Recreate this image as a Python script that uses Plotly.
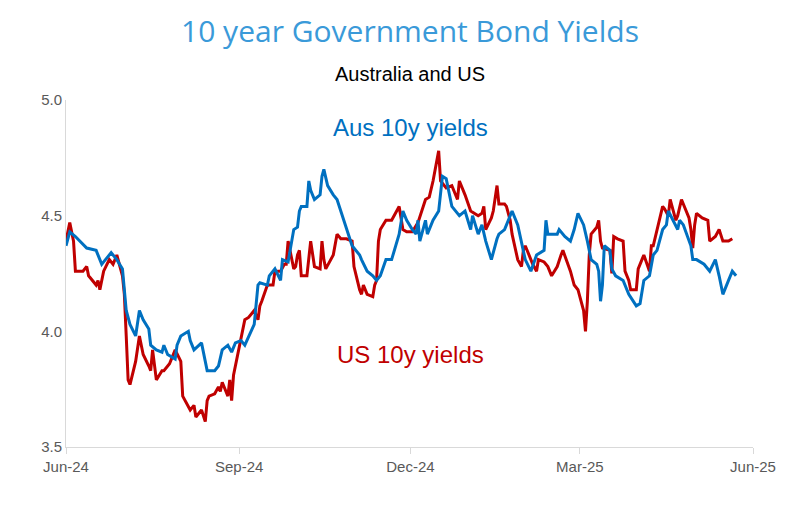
import plotly.graph_objects as go

AUS_DATES = ["2024-06-01", "2024-06-03", "2024-06-06", "2024-06-12", "2024-06-17", "2024-06-20", "2024-06-21",
             "2024-06-25", "2024-06-28", "2024-07-01", "2024-07-03", "2024-07-05", "2024-07-08", "2024-07-10",
             "2024-07-12", "2024-07-15", "2024-07-16", "2024-07-19", "2024-07-22", "2024-07-23", "2024-07-25",
             "2024-07-29", "2024-07-30", "2024-08-01", "2024-08-05", "2024-08-06", "2024-08-08", "2024-08-12",
             "2024-08-14", "2024-08-15", "2024-08-19", "2024-08-21", "2024-08-23", "2024-08-26", "2024-08-28",
             "2024-08-30", "2024-09-02", "2024-09-04", "2024-09-09", "2024-09-11", "2024-09-12", "2024-09-16",
             "2024-09-17", "2024-09-20", "2024-09-23", "2024-09-24", "2024-09-27", "2024-09-30", "2024-10-02",
             "2024-10-03", "2024-10-04", "2024-10-07", "2024-10-08", "2024-10-09", "2024-10-11", "2024-10-14",
             "2024-10-15", "2024-10-16", "2024-10-18", "2024-10-21", "2024-10-23", "2024-10-25", "2024-10-28",
             "2024-10-31", "2024-11-04", "2024-11-05", "2024-11-08", "2024-11-11", "2024-11-13", "2024-11-15",
             "2024-11-18", "2024-11-21", "2024-11-25", "2024-11-27", "2024-11-29", "2024-12-02", "2024-12-04",
             "2024-12-05", "2024-12-06", "2024-12-09", "2024-12-10", "2024-12-13", "2024-12-16", "2024-12-18",
             "2024-12-20", "2024-12-23", "2024-12-27", "2024-12-30", "2025-01-02", "2025-01-03", "2025-01-06",
             "2025-01-08", "2025-01-10", "2025-01-13", "2025-01-16", "2025-01-17", "2025-01-20", "2025-01-24",
             "2025-01-27", "2025-01-29", "2025-01-31", "2025-02-03", "2025-02-06", "2025-02-10", "2025-02-11",
             "2025-02-12", "2025-02-14", "2025-02-17", "2025-02-18", "2025-02-21", "2025-02-24", "2025-02-26",
             "2025-02-28", "2025-03-03", "2025-03-05", "2025-03-07", "2025-03-10", "2025-03-11", "2025-03-12",
             "2025-03-13", "2025-03-14", "2025-03-17", "2025-03-18", "2025-03-20", "2025-03-24", "2025-03-27",
             "2025-03-31", "2025-04-02", "2025-04-04", "2025-04-07", "2025-04-09", "2025-04-11", "2025-04-14",
             "2025-04-16", "2025-04-17", "2025-04-22", "2025-04-23", "2025-04-25", "2025-04-29", "2025-04-30",
             "2025-05-02", "2025-05-06", "2025-05-09", "2025-05-12", "2025-05-14", "2025-05-16", "2025-05-19",
             "2025-05-21", "2025-05-23"]
AUS_YIELDS = [4.37, 4.43, 4.41, 4.36, 4.35, 4.29, 4.30, 4.34, 4.31, 4.27, 4.09, 4.03, 3.98, 4.09, 4.05,
              4.01, 3.94, 3.92, 3.91, 3.94, 3.90, 3.88, 3.94, 3.98, 4.00, 3.96, 3.92, 3.95, 3.87, 3.83,
              3.83, 3.85, 3.92, 3.94, 3.91, 3.95, 3.96, 3.94, 4.03, 4.20, 4.21, 4.20, 4.24, 4.27, 4.22,
              4.31, 4.30, 4.44, 4.45, 4.52, 4.54, 4.54, 4.65, 4.61, 4.57, 4.59, 4.67, 4.70, 4.63, 4.59,
              4.57, 4.52, 4.44, 4.37, 4.33, 4.31, 4.26, 4.24, 4.22, 4.24, 4.31, 4.31, 4.42, 4.52, 4.48,
              4.44, 4.42, 4.48, 4.39, 4.48, 4.42, 4.48, 4.52, 4.67, 4.66, 4.54, 4.50, 4.52, 4.44, 4.50,
              4.42, 4.46, 4.39, 4.31, 4.40, 4.42, 4.44, 4.52, 4.46, 4.39, 4.31, 4.26, 4.33, 4.35, 4.48,
              4.42, 4.42, 4.42, 4.44, 4.41, 4.39, 4.44, 4.51, 4.46, 4.39, 4.31, 4.29, 4.26, 4.13, 4.20,
              4.37, 4.35, 4.27, 4.24, 4.22, 4.16, 4.11, 4.12, 4.22, 4.24, 4.33, 4.35, 4.44, 4.46, 4.52,
              4.44, 4.48, 4.46, 4.37, 4.31, 4.31, 4.29, 4.26, 4.31, 4.24, 4.16, 4.22, 4.26, 4.24]

US_DATES = ["2024-06-01", "2024-06-03", "2024-06-05", "2024-06-06", "2024-06-10", "2024-06-12", "2024-06-13",
            "2024-06-17", "2024-06-18", "2024-06-19", "2024-06-21", "2024-06-24", "2024-06-26", "2024-06-28",
            "2024-07-01", "2024-07-02", "2024-07-03", "2024-07-04", "2024-07-05", "2024-07-08", "2024-07-10",
            "2024-07-12", "2024-07-15", "2024-07-16", "2024-07-17", "2024-07-18", "2024-07-19", "2024-07-22",
            "2024-07-23", "2024-07-26", "2024-07-29", "2024-08-01", "2024-08-02", "2024-08-06", "2024-08-08",
            "2024-08-09", "2024-08-12", "2024-08-14", "2024-08-15", "2024-08-16", "2024-08-19", "2024-08-21",
            "2024-08-22", "2024-08-23", "2024-08-26", "2024-08-27", "2024-08-28", "2024-08-29", "2024-09-02",
            "2024-09-04", "2024-09-06", "2024-09-09", "2024-09-11", "2024-09-12", "2024-09-13", "2024-09-16",
            "2024-09-19", "2024-09-20", "2024-09-23", "2024-09-25", "2024-09-26", "2024-09-27", "2024-09-30",
            "2024-10-01", "2024-10-02", "2024-10-03", "2024-10-04", "2024-10-07", "2024-10-09", "2024-10-11",
            "2024-10-14", "2024-10-15", "2024-10-16", "2024-10-17", "2024-10-21", "2024-10-23", "2024-10-25",
            "2024-10-28", "2024-10-31", "2024-11-01", "2024-11-04", "2024-11-05", "2024-11-06", "2024-11-08",
            "2024-11-11", "2024-11-12", "2024-11-13", "2024-11-14", "2024-11-15", "2024-11-18", "2024-11-21",
            "2024-11-25", "2024-11-27", "2024-11-29", "2024-12-02", "2024-12-05", "2024-12-09", "2024-12-11",
            "2024-12-13", "2024-12-16", "2024-12-17", "2024-12-20", "2024-12-23", "2024-12-26", "2024-12-27",
            "2024-12-30", "2025-01-02", "2025-01-06", "2025-01-08", "2025-01-09", "2025-01-10", "2025-01-13",
            "2025-01-14", "2025-01-16", "2025-01-17", "2025-01-20", "2025-01-21", "2025-01-23", "2025-01-24",
            "2025-01-27", "2025-01-29", "2025-01-30", "2025-01-31", "2025-02-03", "2025-02-04", "2025-02-06",
            "2025-02-07", "2025-02-10", "2025-02-12", "2025-02-14", "2025-02-17", "2025-02-19", "2025-02-20",
            "2025-02-24", "2025-02-26", "2025-02-28", "2025-03-03", "2025-03-04", "2025-03-05", "2025-03-06",
            "2025-03-07", "2025-03-10", "2025-03-11", "2025-03-12", "2025-03-13", "2025-03-17", "2025-03-18",
            "2025-03-19", "2025-03-21", "2025-03-24", "2025-03-25", "2025-03-27", "2025-03-28", "2025-03-31",
            "2025-04-01", "2025-04-03", "2025-04-04", "2025-04-07", "2025-04-08", "2025-04-09", "2025-04-11",
            "2025-04-14", "2025-04-15", "2025-04-17", "2025-04-18", "2025-04-21", "2025-04-22", "2025-04-24",
            "2025-04-28", "2025-04-29", "2025-04-30", "2025-05-01", "2025-05-02", "2025-05-05", "2025-05-08",
            "2025-05-09", "2025-05-12", "2025-05-14", "2025-05-16", "2025-05-19", "2025-05-21", "2025-05-22"]
US_YIELDS = [4.39, 4.47, 4.39, 4.26, 4.26, 4.28, 4.24, 4.20, 4.22, 4.18, 4.26, 4.31, 4.29, 4.33, 4.24,
             4.16, 3.98, 3.79, 3.77, 3.87, 3.98, 3.90, 3.85, 3.83, 3.92, 3.85, 3.79, 3.83, 3.83, 3.86,
             3.92, 3.87, 3.72, 3.66, 3.68, 3.63, 3.66, 3.61, 3.70, 3.72, 3.73, 3.76, 3.74, 3.78, 3.72,
             3.79, 3.70, 3.81, 3.98, 4.05, 4.06, 4.09, 4.05, 4.11, 4.13, 4.20, 4.20, 4.26, 4.26, 4.29,
             4.29, 4.39, 4.27, 4.28, 4.33, 4.35, 4.24, 4.24, 4.39, 4.28, 4.27, 4.39, 4.31, 4.27, 4.33,
             4.42, 4.40, 4.40, 4.39, 4.28, 4.18, 4.16, 4.20, 4.16, 4.15, 4.20, 4.22, 4.39, 4.44, 4.48,
             4.48, 4.54, 4.44, 4.43, 4.43, 4.47, 4.57, 4.58, 4.65, 4.78, 4.65, 4.62, 4.63, 4.57, 4.65,
             4.59, 4.52, 4.50, 4.51, 4.54, 4.44, 4.49, 4.52, 4.63, 4.55, 4.55, 4.54, 4.48, 4.42, 4.31,
             4.28, 4.35, 4.37, 4.31, 4.29, 4.26, 4.31, 4.30, 4.28, 4.24, 4.28, 4.33, 4.35, 4.26, 4.20,
             4.18, 4.09, 4.00, 4.13, 4.33, 4.42, 4.45, 4.48, 4.39, 4.36, 4.35, 4.25, 4.41, 4.40, 4.39,
             4.26, 4.22, 4.18, 4.18, 4.27, 4.31, 4.33, 4.26, 4.37, 4.37, 4.44, 4.54, 4.53, 4.50, 4.57,
             4.48, 4.50, 4.57, 4.49, 4.44, 4.36, 4.46, 4.51, 4.49, 4.48, 4.39, 4.41, 4.44, 4.39, 4.39,
             4.40]

X_TICKS = ["2024-06-01", "2024-09-01", "2024-12-01", "2025-03-01", "2025-06-01"]
X_TICK_LABELS = ["Jun-24", "Sep-24", "Dec-24", "Mar-25", "Jun-25"]

BLUE = "#0070C0"
RED = "#C00000"
FONT = "Liberation Sans"

fig = go.Figure()
fig.add_trace(go.Scatter(x=US_DATES, y=US_YIELDS, mode="lines", line=dict(color=RED, width=3), name="US"))
fig.add_trace(go.Scatter(x=AUS_DATES, y=AUS_YIELDS, mode="lines", line=dict(color=BLUE, width=3), name="Aus"))

fig.update_layout(
    width=800, height=514,
    margin=dict(l=58, r=55, t=92, b=75),
    plot_bgcolor="white", paper_bgcolor="white",
    showlegend=False,
    font=dict(family=FONT, color="#595959", size=15),
    annotations=[
        # title and subtitle, in paper coordinates above the plot
        dict(text="10 year Government Bond Yields", x=0.5, y=1.20, xref="paper", yref="paper",
             yanchor="middle", showarrow=False, font=dict(size=30, color="#3A9AD9", family="Open Sans")),
        dict(text="Australia and US", x=0.5, y=1.075, xref="paper", yref="paper",
             yanchor="middle", showarrow=False, font=dict(size=20, color="black")),
        dict(text="Aus 10y yields", x="2024-12-01", y=4.88, showarrow=False,
             font=dict(size=24, color=BLUE)),
        dict(text="US 10y yields", x="2024-12-01", y=3.90, showarrow=False,
             font=dict(size=24, color=RED)),
    ],
)

fig.update_xaxes(range=["2024-06-01", "2025-06-01"], tickvals=X_TICKS, ticktext=X_TICK_LABELS,
                 showgrid=False, showline=True, linecolor="#D9D9D9", ticks="outside",
                 tickcolor="#D9D9D9", ticklen=6, tickfont=dict(size=15, color="#595959"))
fig.update_yaxes(range=[3.5, 5.0], dtick=0.5, tickformat=".1f", showgrid=False,
                 showline=True, linecolor="#D9D9D9", ticks="", zeroline=False,
                 tickfont=dict(size=15, color="#595959"))

fig.write_html("out.html")
